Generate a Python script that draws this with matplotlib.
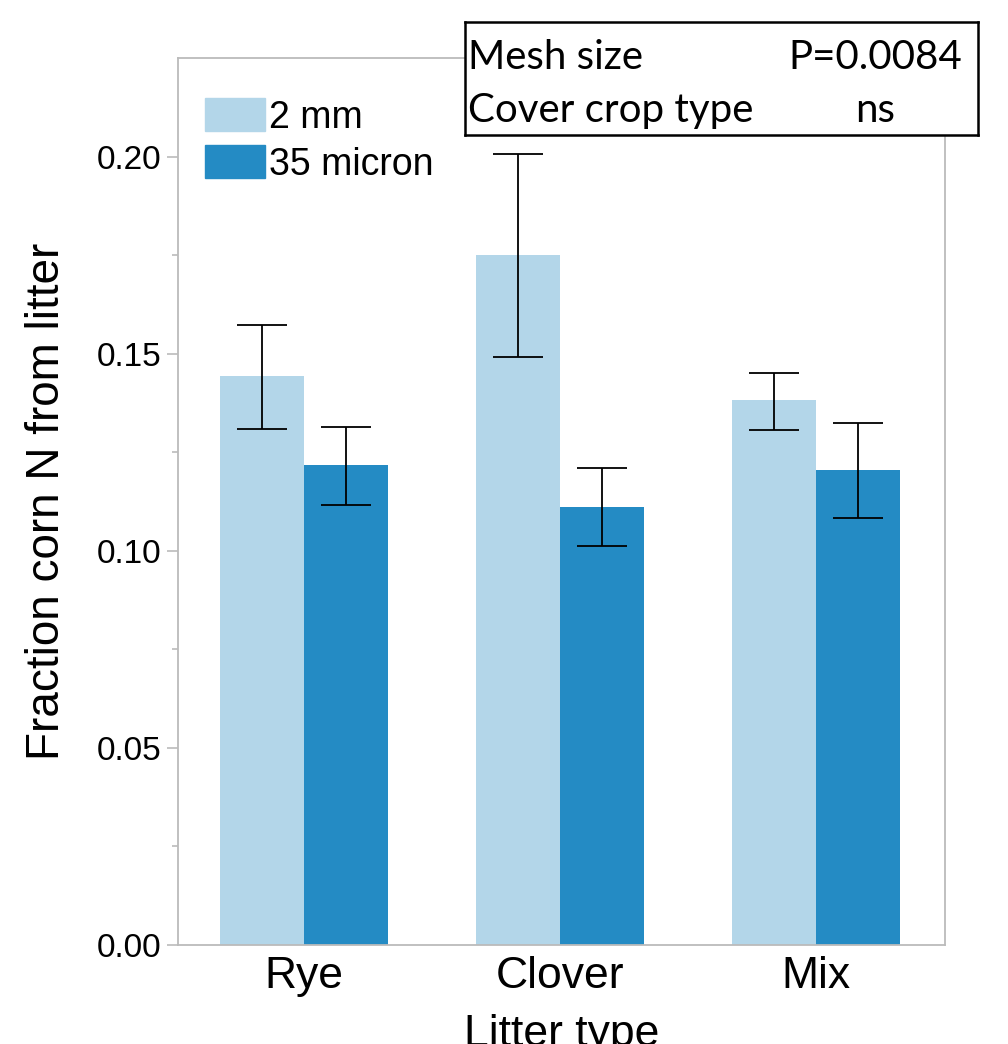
import matplotlib.pyplot as plt
from matplotlib.patches import Patch
import numpy as np

# datos
tipos = ['Rye', 'Clover', 'Mix']
malla_2mm = [0.1444, 0.1751, 0.1383]
malla_2mm_lo = [0.1310, 0.1492, 0.1307]
malla_2mm_hi = [0.1574, 0.2008, 0.1452]
malla_35 = [0.1218, 0.1112, 0.1206]
malla_35_lo = [0.1117, 0.1013, 0.1084]
malla_35_hi = [0.1315, 0.1211, 0.1325]
yticks = [0.00, 0.05, 0.10, 0.15, 0.20]

plt.rcParams['font.family'] = ['Liberation Sans', 'DejaVu Sans']

col_claro = '#b3d6e9'
col_oscuro = '#248bc4'
gris = '#bbbbbb'

fig = plt.figure(figsize=(10.08, 10.44), dpi=100)
ax = fig.add_axes([178/1008, 1-945/1044, (945-178)/1008, (945-58)/1044])

x = np.arange(len(tipos))
w = 0.328

def errs(v, lo, hi):
    v = np.array(v); return [v - np.array(lo), np.array(hi) - v]

ax.bar(x - w/2, malla_2mm, w, color=col_claro)
ax.bar(x + w/2, malla_35, w, color=col_oscuro)
ax.errorbar(x - w/2, malla_2mm, yerr=errs(malla_2mm, malla_2mm_lo, malla_2mm_hi),
            fmt='none', ecolor='black', elinewidth=1.3, capsize=18, capthick=1.3)
ax.errorbar(x + w/2, malla_35, yerr=errs(malla_35, malla_35_lo, malla_35_hi),
            fmt='none', ecolor='black', elinewidth=1.3, capsize=18, capthick=1.3)

ax.set_xlim(-0.492, 2.504)
ax.set_ylim(0, 0.2251)
ax.set_yticks(yticks)
ax.set_yticklabels([f'{t:.2f}' for t in yticks], fontsize=24)
ax.set_yticks(np.arange(0.025, 0.225, 0.05), minor=True)
ax.set_xticks(x)
ax.set_xticklabels(tipos, fontsize=32)
ax.tick_params(axis='x', length=0, pad=8)
ax.tick_params(axis='y', which='major', length=8, color=gris, width=1.2, pad=4)
ax.tick_params(axis='y', which='minor', length=4, color=gris, width=1.2)
for s in ax.spines.values():
    s.set_color(gris)
    s.set_linewidth(1.3)

ax.set_ylabel('Fraction corn N from litter', fontsize=33, labelpad=20)
ax.set_xlabel('Litter type', fontsize=32, labelpad=12)

handles = [Patch(color=col_claro), Patch(color=col_oscuro)]
ax.legend(handles, ['2 mm', '35 micron'], loc='upper left', bbox_to_anchor=(0.035, 0.955),
          frameon=False, fontsize=27, handlelength=1.6, handleheight=1.0,
          handletextpad=0.12, labelspacing=0.25, borderaxespad=0.0, borderpad=0.0)

# recuadro de estadisticos
box = fig.add_axes([465/1008, 1-135/1044, (978-465)/1008, (135-22)/1044])
box.set_xticks([]); box.set_yticks([])
for s in box.spines.values():
    s.set_color('black'); s.set_linewidth(1.8)
bf = dict(fontsize=29, family=['Lato', 'DejaVu Sans'], va='center')
box.text(0.006, 0.69, 'Mesh size', ha='left', **bf)
box.text(0.97, 0.69, 'P=0.0084', ha='right', **bf)
box.text(0.006, 0.22, 'Cover crop type', ha='left', **bf)
box.text(0.8, 0.22, 'ns', ha='center', **bf)

fig.savefig('out.png', dpi=100)
